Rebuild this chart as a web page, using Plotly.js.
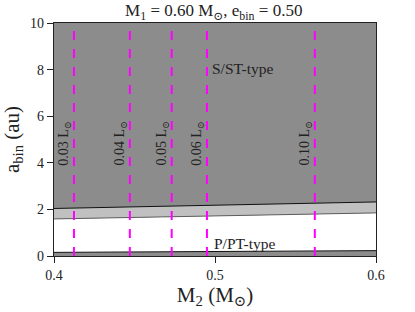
<!DOCTYPE html>
<html><head><meta charset="utf-8">
<script src="https://cdn.plot.ly/plotly-3.0.1.min.js"></script>
<style>html,body{margin:0;padding:0;background:#fff}#chart{width:415px;height:312px}</style>
</head><body><div id="chart"></div>
<script>
// Data
const m2 = [0.4, 0.5, 0.6];
const bottomBand = [0.155, 0.19, 0.23];     // P/PT unstable lower band top edge (au)
const lowerEdge = [1.59, 1.72, 1.85];       // white / light-grey boundary (au)
const upperEdge = [2.04, 2.18, 2.32];       // light-grey / dark-grey boundary (au)
const lumM2 = [0.4124, 0.4471, 0.4731, 0.4950, 0.5620];
const lumLabels = ["0.03 L<sub>⊙</sub>", "0.04 L<sub>⊙</sub>", "0.05 L<sub>⊙</sub>", "0.06 L<sub>⊙</sub>", "0.10 L<sub>⊙</sub>"];
const yTicks = [0, 2, 4, 6, 8, 10];
const xTicks = [0.4, 0.5, 0.6];

const font = {family: "Liberation Serif, DejaVu Serif, serif", color: "#222"};
const traces = [
  {x: m2, y: bottomBand, mode: "lines", line: {color: "#111", width: 1}, hoverinfo: "skip"},
  {x: m2, y: lowerEdge, mode: "lines", fill: "tonexty", fillcolor: "#ffffff", line: {color: "#444", width: 0.8}, hoverinfo: "skip"},
  {x: m2, y: upperEdge, mode: "lines", fill: "tonexty", fillcolor: "#c0c0c0", line: {color: "#111", width: 1}, hoverinfo: "skip"}
];
lumM2.forEach(v => traces.push({x: [v, v], y: [0, 10], mode: "lines", line: {color: "#ff00ff", width: 2, dash: "dash"}, hoverinfo: "skip"}));

const annotations = lumM2.map((v, i) => ({
  x: v, y: 4.86, xref: "x", yref: "y", text: lumLabels[i], showarrow: false,
  textangle: -90, xshift: -9, font: {family: font.family, size: 14, color: "#222"}
}));
annotations.push({x: 0.5175, y: 8.03, text: "S/ST-type", showarrow: false, font: {family: font.family, size: 15.5, color: "#222"}});
annotations.push({x: 0.5185, y: 0.55, text: "P/PT-type", showarrow: false, font: {family: font.family, size: 15.5, color: "#222"}});

const layout = {
  width: 415, height: 312,
  margin: {l: 54, r: 39, t: 23, b: 56},
  paper_bgcolor: "#fff", plot_bgcolor: "#8c8c8c",
  showlegend: false,
  title: {text: "M<sub>1</sub> = 0.60 M<sub>⊙</sub>, e<sub>bin</sub> = 0.50", x: 0.515, xanchor: "center", y: 0.967, yanchor: "middle", font: {family: font.family, size: 17, color: "#222"}},
  xaxis: {range: [0.4, 0.6], tickvals: xTicks, ticktext: xTicks.map(v => v.toFixed(1)), ticks: "outside", ticklen: 6, tickcolor: "#222",
          showline: true, linecolor: "#222", linewidth: 1.2, mirror: true, showgrid: false, zeroline: false,
          tickfont: {family: font.family, size: 14, color: "#222"},
          title: {text: "M<sub>2</sub> (M<sub>⊙</sub>)", font: {family: font.family, size: 21, color: "#222"}, standoff: 4}},
  yaxis: {range: [0, 10], tickvals: yTicks, ticks: "outside", ticklen: 6, tickcolor: "#222",
          showline: true, linecolor: "#222", linewidth: 1.2, mirror: true, showgrid: false, zeroline: false,
          tickfont: {family: font.family, size: 14, color: "#222"},
          title: {text: "a<sub>bin</sub> (au)", font: {family: font.family, size: 21, color: "#222"}, standoff: 8}},
  annotations: annotations
};
Plotly.newPlot("chart", traces, layout, {displayModeBar: false, staticPlot: true});
</script></body></html>
